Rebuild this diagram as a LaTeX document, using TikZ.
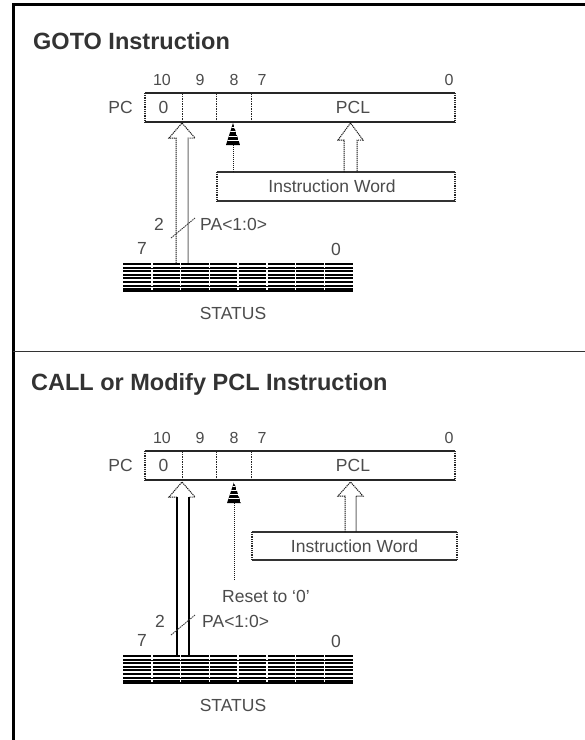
\documentclass[tikz,border=0pt]{standalone}
\usepackage{fontspec}
\setmainfont{Liberation Sans}
\begin{document}
\begin{tikzpicture}[x=1pt,y=-1pt,
  small/.style={font=\fontsize{17.5}{20}\selectfont, text=black!70, inner sep=0pt},
  digit/.style={font=\fontsize{16}{18}\selectfont, text=black!70, inner sep=0pt},
  titletext/.style={font=\fontsize{23.5}{28}\selectfont\bfseries, text=black!80, inner sep=0pt, anchor=west},
  solidedge/.style={line width=1.6pt, black!85},
  dotedge/.style={line width=1.6pt, dash pattern=on 1pt off 0.8pt, black!85},
  divider/.style={line width=1pt, dash pattern=on 1.5pt off 1pt, black!85},
  thinline/.style={line width=1pt, dash pattern=on 1.2pt off 0.8pt, black!90},
  shaftline/.style={line width=1.6pt, black},
  boxedge/.style={line width=1.2pt, black!80}
]
\useasboundingbox (0,0) rectangle (585,740);
\fill[white] (0,0) rectangle (585,740);
% frame
\draw[line width=3pt] (585,4) -- (13,4) -- (13,740);
\draw[line width=1pt, black!80] (13,351) -- (585,351);

% ---------- PC register macro ----------
\newcommand{\pcreg}[2]{%
\begin{scope}[shift={(0,#2)}]
  \coordinate (#1nw) at (145,0); \coordinate (#1ne) at (455,0);
  \coordinate (#1sw) at (145,29); \coordinate (#1se) at (455,29);
  \draw[solidedge] (#1nw) -- (#1ne);
  \draw[solidedge] (#1sw) -- (#1se);
  \draw[dotedge] (#1nw) -- (#1sw);
  \draw[dotedge] (#1ne) -- (#1se);
  \draw[divider] (182,0) -- (182,29);
  \draw[divider] (216,0) -- (216,29);
  \draw[divider] (251,0) -- (251,29);
  \node[small] (#1lab) at (120.5,14.5) {PC};
  \node[small] (#1bten) at (163.5,14.5) {0};
  \node[small] (#1pcl) at (353,14.5) {PCL};
  \node[digit] (#1dten) at (162,-13) {10};
  \node[digit] (#1dnine) at (200,-13) {9};
  \node[digit] (#1deight) at (234,-13) {8};
  \node[digit] (#1dseven) at (262,-13) {7};
  \node[digit] (#1dzero) at (449,-13) {0};
\end{scope}}

% ---------- STATUS register macro ----------
\newcommand{\statreg}[2]{%
\begin{scope}[shift={(0,#2)}]
  \coordinate (#1nw) at (123,0); \coordinate (#1se) at (353,29);
  \fill[white] (#1nw) rectangle (#1se);
  \foreach \yy in {1,4.6,8.2,11.8,15.4,19,22.6,26.2,28.4}
    \draw[line width=2.1pt, black] (123,\yy) -- (353,\yy);
  \foreach \k in {1,...,7}
    \draw[line width=1.5pt, white, dash pattern=on 1.8pt off 1.8pt] (123+28.75*\k,0) -- (123+28.75*\k,29);
  \node[small] (#1seven) at (142,-15) {7};
  \node[small] (#1zero) at (336,-14) {0};
  \node[small] (#1name) at (233,50) {STATUS};
\end{scope}}

% ---------- striped filled arrow head ----------
\newcommand{\stripehead}[3]{% x, tip y, base y
  \begin{scope}
    \clip (#1-7,#3) -- (#1,#2) -- (#1+7,#3) -- cycle;
    \fill[black] (#1-7,#3) -- (#1,#2) -- (#1+7,#3) -- cycle;
    \foreach \yy in {0.2,0.4,0.6,0.8}
      \draw[white, line width=1pt] (#1-8,{#2+(#3-#2)*\yy}) -- (#1+8,{#2+(#3-#2)*\yy});
  \end{scope}}

% ================= Section 1 =================
\node[titletext] (t1) at (33,41.5) {GOTO Instruction};
\pcreg{pa}{93}
\statreg{sa}{263}

% Instruction Word box
\coordinate (iwanw) at (217,172); \coordinate (iwane) at (455,172);
\coordinate (iwasw) at (217,201); \coordinate (iwase) at (455,201);
\draw[boxedge] (iwanw) -- (iwane); \draw[boxedge] (iwasw) -- (iwase);
\draw[dotedge] (iwanw) -- (iwasw); \draw[dotedge] (iwane) -- (iwase);
\node[small] (iwa) at (332,186.5) {Instruction Word};

% double hollow arrow status -> bit 10
\draw[thinline] (176,263) -- (176,138) -- (169,138) -- (182,123) -- (195,138) -- (188,138) -- (188,263);
% striped arrow bit 8
\draw[thinline] (233,172) -- (233,145);
\stripehead{233}{123}{145}
% hollow arrow to PCL
\draw[thinline] (344,172) -- (344,140) -- (338,140) -- (350.5,123) -- (363,140) -- (357,140) -- (357,172);
% bus width mark
\draw[line width=0.9pt, black!75, dash pattern=on 1.5pt off 0.8pt] (171,238) -- (195,218);
\node[small] (twoa) at (159,224) {2};
\node[small, anchor=west] (paa) at (200,224) {PA<1:0>};

% ================= Section 2 =================
\node[titletext] (t2) at (31,384) {CALL or Modify PCL Instruction};
\pcreg{pb}{451}
\statreg{sb}{655}

\coordinate (iwbnw) at (252,532); \coordinate (iwbne) at (457,532);
\coordinate (iwbsw) at (252,560); \coordinate (iwbse) at (457,560);
\draw[boxedge] (iwbnw) -- (iwbne); \draw[boxedge] (iwbsw) -- (iwbse);
\draw[dotedge] (iwbnw) -- (iwbsw); \draw[dotedge] (iwbne) -- (iwbse);
\node[small] (iwb) at (354.5,546) {Instruction Word};

% double arrow with solid shafts
\draw[thinline] (177,497) -- (169,497) -- (182,482) -- (195,497) -- (189,497);
\draw[shaftline] (177,655) -- (177,497);
\draw[shaftline] (189,655) -- (189,497);
% reset arrow
\draw[thinline] (234,580) -- (234,503);
\stripehead{234}{482}{503}
\node[small] (reset) at (266,596) {Reset to `0'};
% hollow arrow to PCL
\draw[thinline] (345,532) -- (345,496) -- (338,496) -- (350.5,482) -- (363,496) -- (356,496) -- (356,532);
% bus width mark
\draw[line width=0.9pt, black!75, dash pattern=on 1.5pt off 0.8pt] (171,635) -- (195,615);
\node[small] (twob) at (160,621) {2};
\node[small, anchor=west] (pab) at (202,621) {PA<1:0>};
\end{tikzpicture}
\end{document}
